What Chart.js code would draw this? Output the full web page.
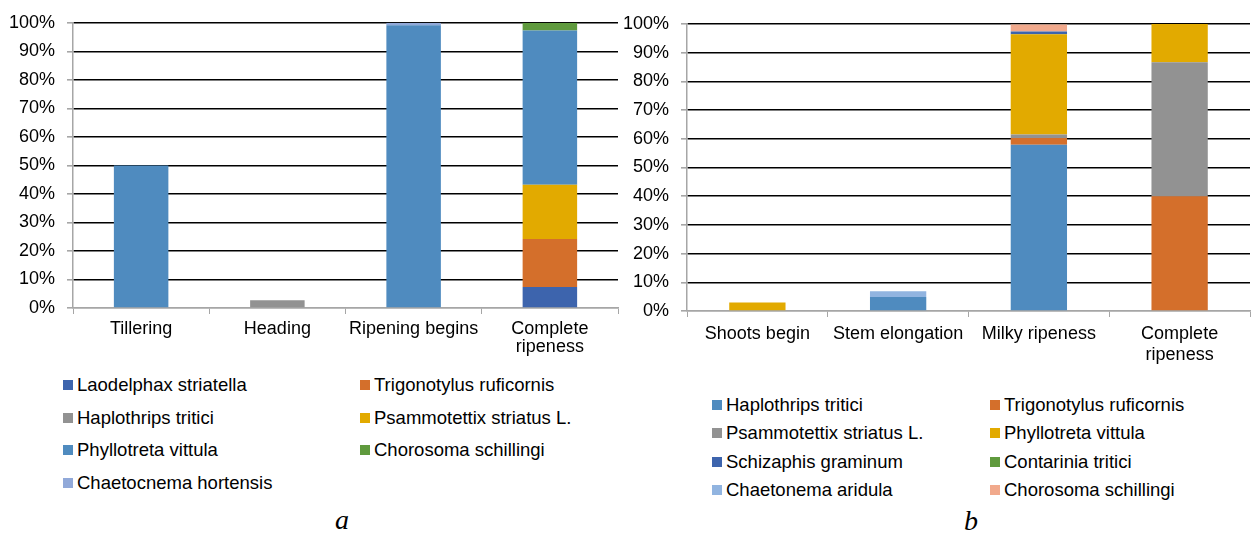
<!DOCTYPE html>
<html>
<head>
<meta charset="utf-8">
<script src="https://cdn.jsdelivr.net/npm/chart.js@4.4.1/dist/chart.umd.min.js"></script>
<style>
  body { margin: 0; background: #fff; }
  #wrap { position: relative; width: 1252px; height: 533px; overflow: hidden; font-family: "Liberation Sans", Arial, sans-serif; }
  canvas { position: absolute; top: 0; }
  .sq { position: absolute; width: 10px; height: 10px; }
  .lt { position: absolute; font-size: 18.5px; line-height: 20px; color: #000; white-space: nowrap; }
  .cap { position: absolute; font-family: "Liberation Serif", "Times New Roman", serif; font-style: italic; font-size: 28px; line-height: 30px; }
</style>
</head>
<body>
<div id="wrap">
  <canvas id="chartA" width="620" height="370" style="left:0"></canvas>
  <canvas id="chartB" width="632" height="370" style="left:620px"></canvas>
  <div class="cap" style="left:335px; top:505px;">a</div>
  <div class="cap" style="left:964px; top:506px;">b</div>
</div>
<script>
// chart a - share of each species by phase (%)
const stagesA = ['Tillering', 'Heading', 'Ripening begins', ['Complete', 'ripeness']];
const laodelphaxA   = [0, 0, 0, 7.4];
const trigonotylusA = [0, 0, 0, 16.8];
const haplothripsA  = [0, 2.7, 0, 0];
const psammotettixA = [0, 0, 0.3, 19];
const phyllotretaA  = [50, 0, 98.8, 54.1];
const chorosomaA    = [0, 0, 0, 2.7];
const chaetocnemaA  = [0, 0, 0.9, 0];

// chart b
const stagesB = ['Shoots begin', 'Stem elongation', 'Milky ripeness', ['Complete', 'ripeness']];
const haplothripsB  = [0, 4.9, 57.9, 0];
const trigonotylusB = [0, 0, 2.4, 40];
const psammotettixB = [0, 0, 1.2, 46.7];
const phyllotretaB  = [3, 0, 34.9, 13.3];
const schizaphisB   = [0, 0, 1, 0];
const contariniaB   = [0, 0, 0, 0];
const chaetonemaB   = [0, 2, 0, 0];
const chorosomaB    = [0, 0, 2.4, 0];

const yTicks = [0, 10, 20, 30, 40, 50, 60, 70, 80, 90, 100];

Chart.defaults.font.family = '"Liberation Sans", Arial, sans-serif';

const seriesA = [
  ['Laodelphax striatella', laodelphaxA, '#3d64ad'],
  ['Trigonotylus ruficornis', trigonotylusA, '#d46f2b'],
  ['Haplothrips tritici', haplothripsA, '#929292'],
  ['Psammotettix striatus L.', psammotettixA, '#e2aa00'],
  ['Phyllotreta vittula', phyllotretaA, '#4f8bbf'],
  ['Chorosoma schillingi', chorosomaA, '#5f9a3d'],
  ['Chaetocnema hortensis', chaetocnemaA, '#91a9d9']
];
const seriesB = [
  ['Haplothrips tritici', haplothripsB, '#4f8bbf'],
  ['Trigonotylus ruficornis', trigonotylusB, '#d46f2b'],
  ['Psammotettix striatus L.', psammotettixB, '#929292'],
  ['Phyllotreta vittula', phyllotretaB, '#e2aa00'],
  ['Schizaphis graminum', schizaphisB, '#3d64ad'],
  ['Contarinia tritici', contariniaB, '#5f9a3d'],
  ['Chaetonema aridula', chaetonemaB, '#91b4e0'],
  ['Chorosoma schillingi', chorosomaB, '#f1a98c']
];

function makeChart(id, labels, series, yWidth, top, xHeight, lineH) {
  return new Chart(document.getElementById(id), {
    type: 'bar',
    data: {
      labels: labels,
      datasets: series.map(function (s) {
        return { label: s[0], data: s[1], backgroundColor: s[2], borderWidth: 0 };
      })
    },
    options: {
      responsive: false,
      animation: false,
      layout: { padding: { top: top, right: 2, left: 0, bottom: 0 } },
      plugins: { legend: { display: false }, tooltip: { enabled: false } },
      datasets: { bar: { categoryPercentage: 1, barPercentage: 0.4 } },
      scales: {
        x: {
          stacked: true,
          grid: { drawOnChartArea: false, offset: true, tickLength: 6, color: '#a6a6a6' },
          border: { color: '#a6a6a6', width: 1.5 },
          ticks: { color: '#000', font: { size: 18, lineHeight: lineH }, padding: 6, maxRotation: 0, autoSkip: false },
          afterFit: function (s) { s.height = xHeight; }
        },
        y: {
          stacked: true,
          min: 0,
          max: 100,
          afterBuildTicks: function (s) { s.ticks = yTicks.map(function (v) { return { value: v }; }); },
          ticks: { color: '#000', font: { size: 18 }, padding: 12, callback: function (v) { return v + '%'; } },
          grid: {
            color: function (c) { return c.tick && c.tick.value === 0 ? '#a6a6a6' : '#000'; },
            tickColor: '#a6a6a6',
            tickLength: 6,
            lineWidth: 1.6
          },
          border: { color: '#a6a6a6', width: 1.5 },
          afterFit: function (s) { s.width = yWidth; }
        }
      }
    }
  });
}

makeChart('chartA', stagesA, seriesA, 73, 18, 62, 1.0);
makeChart('chartB', stagesB, seriesB, 67, 24, 59, 1.2);

// legends, two columns
function legend(series, x1, x2, rows) {
  const wrap = document.getElementById('wrap');
  series.forEach(function (s, i) {
    const x = i % 2 === 0 ? x1 : x2;
    const y = rows[Math.floor(i / 2)];
    const sq = document.createElement('div');
    sq.className = 'sq';
    sq.style.left = x + 'px';
    sq.style.top = (y - 5) + 'px';
    sq.style.background = s[2];
    wrap.appendChild(sq);
    const t = document.createElement('div');
    t.className = 'lt';
    t.style.left = (x + 14) + 'px';
    t.style.top = (y - 10) + 'px';
    t.textContent = s[0];
    wrap.appendChild(t);
  });
}
legend(seriesA, 63, 360, [385, 418, 450, 483]);
legend(seriesB, 712, 990, [405, 433, 462, 490]);
</script>
</body>
</html>
